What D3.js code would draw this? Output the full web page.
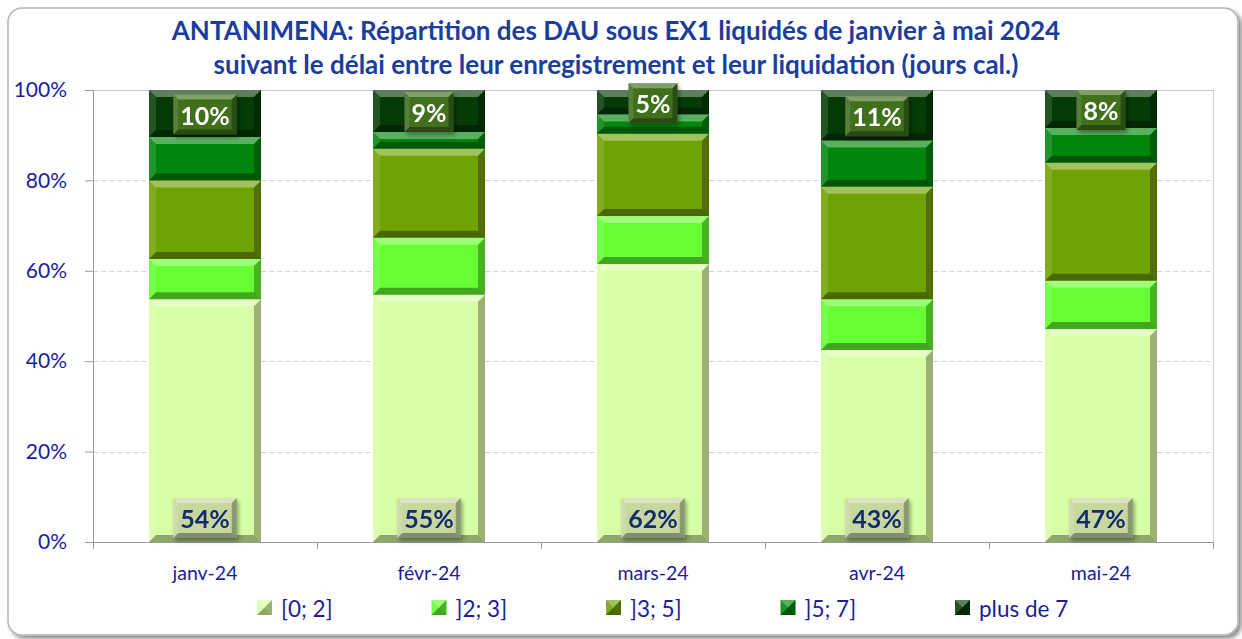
<!DOCTYPE html>
<html>
<head>
<meta charset="utf-8">
<script src="https://cdn.jsdelivr.net/npm/d3@7"></script>
<style>
  body { margin: 0; background: #fff; }
  text { font-family: Lato, "Open Sans", sans-serif; }
</style>
</head>
<body>
<div id="chart"></div>
<script>
const categories = ['janv-24', 'févr-24', 'mars-24', 'avr-24', 'mai-24'];
const seriesNames = ['[0; 2]', ']2; 3]', ']3; 5]', ']5; 7]', 'plus de 7'];
const s0 = [53.7, 54.7, 61.5, 42.5, 47.1];
const s1 = [8.9, 12.6, 10.6, 11.2, 10.7];
const s2 = [17.4, 19.7, 18.2, 24.9, 26.1];
const s3 = [9.6, 3.7, 4.3, 10.2, 7.7];
const s4 = [10.4, 9.3, 5.4, 11.2, 8.4];
const yTicks = [0, 20, 40, 60, 80, 100];
const colors = ['#d8ffa6', '#66ff33', '#70a204', '#01870b', '#053b07'];
const titleLines = [
  'ANTANIMENA: Répartition des DAU sous EX1 liquidés de janvier à mai 2024',
  'suivant le délai entre leur enregistrement et leur liquidation (jours cal.)'
];

const width = 1242;
const height = 639;
const margin = {top: 90, right: 29, bottom: 95, left: 93};

const svg = d3.select('#chart').append('svg')
  .attr('width', width)
  .attr('height', height);

// frame with shadow
const defs = svg.append('defs');
const shadow = defs.append('filter').attr('id', 'shadow')
  .attr('x', '-5%').attr('y', '-5%').attr('width', '110%').attr('height', '110%');
shadow.append('feDropShadow').attr('dx', 3).attr('dy', 3).attr('stdDeviation', 2)
  .attr('flood-color', '#000').attr('flood-opacity', 0.45);
const lblShadow = defs.append('filter').attr('id', 'lblshadow')
  .attr('x', '-20%').attr('y', '-20%').attr('width', '150%').attr('height', '150%');
lblShadow.append('feDropShadow').attr('dx', 2).attr('dy', 3).attr('stdDeviation', 2)
  .attr('flood-color', '#000').attr('flood-opacity', 0.35);

svg.append('rect')
  .attr('x', 8).attr('y', 8)
  .attr('width', width - 12).attr('height', height - 12)
  .attr('rx', 14)
  .attr('fill', '#fff')
  .attr('stroke', '#b5b5b5')
  .attr('stroke-width', 1.5)
  .attr('filter', 'url(#shadow)');

// title
svg.append('g').selectAll('text')
  .data(titleLines)
  .join('text')
  .attr('x', 616)
  .attr('y', (d, i) => 40 + i * 34)
  .attr('text-anchor', 'middle')
  .attr('font-size', 26)
  .attr('font-weight', 'bold')
  .attr('fill', '#1b3d9e')
  .text(d => d);

const x = d3.scaleBand()
  .domain(categories)
  .range([margin.left, width - margin.right])
  .paddingInner(0.5)
  .paddingOuter(0.25);

const y = d3.scaleLinear()
  .domain([0, 100])
  .range([height - margin.bottom - 2, margin.top]);

// gridlines
svg.append('g').selectAll('line')
  .data(yTicks.slice(1))
  .join('line')
  .attr('x1', margin.left)
  .attr('x2', width - margin.right)
  .attr('y1', d => Math.round(y(d)) + 0.5)
  .attr('y2', d => Math.round(y(d)) + 0.5)
  .attr('stroke', d => d === 100 ? '#c8c8c8' : '#d4d4d4')
  .attr('stroke-dasharray', d => d === 100 ? null : '5,3');

// right border of plot area
svg.append('line')
  .attr('x1', width - margin.right + 0.5).attr('x2', width - margin.right + 0.5)
  .attr('y1', y(100)).attr('y2', y(0))
  .attr('stroke', '#d0d0d0');

// stacked data
const table = categories.map((c, i) => ({
  cat: c, k0: s0[i], k1: s1[i], k2: s2[i], k3: s3[i], k4: s4[i]
}));
const keys = ['k0', 'k1', 'k2', 'k3', 'k4'];
const stacked = d3.stack().keys(keys)(table);

function bevel(g, x0, y0, w, h, color, b) {
  g.append('rect')
    .attr('x', x0).attr('y', y0).attr('width', w).attr('height', h)
    .attr('fill', color);
  const bb = Math.min(b, h / 2, w / 2);
  const pts = {
    top: [[x0, y0], [x0 + w, y0], [x0 + w - bb, y0 + bb], [x0 + bb, y0 + bb]],
    left: [[x0, y0], [x0 + bb, y0 + bb], [x0 + bb, y0 + h - bb], [x0, y0 + h]],
    bottom: [[x0, y0 + h], [x0 + bb, y0 + h - bb], [x0 + w - bb, y0 + h - bb], [x0 + w, y0 + h]],
    right: [[x0 + w, y0], [x0 + w, y0 + h], [x0 + w - bb, y0 + h - bb], [x0 + w - bb, y0 + bb]]
  };
  const shade = {top: ['#fff', 0.35], left: ['#fff', 0.12], bottom: ['#000', 0.35], right: ['#000', 0.3]};
  Object.keys(pts).forEach(k => {
    g.append('polygon')
      .attr('points', pts[k].map(p => p.join(',')).join(' '))
      .attr('fill', shade[k][0])
      .attr('fill-opacity', shade[k][1]);
  });
}

const bars = svg.append('g');
stacked.forEach((layer, li) => {
  layer.forEach(d => {
    const g = bars.append('g');
    bevel(g, x(d.data.cat), y(d[1]), x.bandwidth(), y(d[0]) - y(d[1]), colors[li], 7);
  });
});

// axes
const yAxis = svg.append('g')
  .attr('transform', `translate(${margin.left},0)`)
  .call(d3.axisLeft(y).tickValues(yTicks).tickFormat(d => d + '%').tickSize(8).tickSizeOuter(0));
yAxis.select('.domain').attr('stroke', '#9a9a9a');
yAxis.selectAll('.tick line').attr('stroke', '#9a9a9a');
yAxis.selectAll('.tick text')
  .attr('x', -26)
  .attr('font-size', 21)
  .attr('fill', '#1d1d9b');

const xAxis = svg.append('g')
  .attr('transform', `translate(0,${y(0)})`)
  .call(d3.axisBottom(x).tickSize(0).tickSizeOuter(0));
xAxis.select('.domain').attr('stroke', '#9a9a9a');
xAxis.selectAll('.tick text')
  .attr('y', 24)
  .attr('font-size', 19.5)
  .attr('fill', '#1d1d9b');
// category boundary ticks
const step = x.step();
svg.append('g').selectAll('line')
  .data(d3.range(categories.length + 1))
  .join('line')
  .attr('x1', i => Math.round(margin.left + i * step) + 0.5)
  .attr('x2', i => Math.round(margin.left + i * step) + 0.5)
  .attr('y1', y(0))
  .attr('y2', y(0) + 7)
  .attr('stroke', '#9a9a9a');

// data labels
function label(g, cx, cy, txt, fill, textColor) {
  const grp = g.append('g').attr('filter', 'url(#lblshadow)');
  const t = grp.append('text')
    .attr('x', cx).attr('y', cy)
    .attr('text-anchor', 'middle')
    .attr('dominant-baseline', 'central')
    .attr('font-size', 25)
    .attr('font-weight', 'bold')
    .attr('fill', textColor)
    .text(txt);
  const w = t.node().getComputedTextLength() + 14;
  const h = 40;
  const bg = g.append('g');
  bevel(bg, cx - w / 2, cy - h / 2, w, h, fill, 5);
  grp.node().insertBefore(bg.node(), t.node());
}

const labels = svg.append('g');
stacked[0].forEach(d => {
  const cx = x(d.data.cat) + x.bandwidth() / 2;
  label(labels, cx, y(0) - 24, Math.round(d.data.k0) + '%', '#c7d89e', '#132a6e');
});
stacked[4].forEach(d => {
  const cx = x(d.data.cat) + x.bandwidth() / 2;
  label(labels, cx, (y(d[0]) + y(d[1])) / 2 + 1, Math.round(d.data.k4) + '%', '#3f6f1c', '#ffffff');
});

// legend
const legend = svg.append('g');
seriesNames.forEach((name, i) => {
  const lx = 257 + i * 174.5;
  const g = legend.append('g');
  bevel(g, lx, 600, 15, 15, colors[i], 7);
  legend.append('text')
    .attr('x', lx + 24)
    .attr('y', 608)
    .attr('dominant-baseline', 'central')
    .attr('font-size', 22.5)
    .attr('fill', '#1d1d9b')
    .text(name);
});
</script>
</body>
</html>
